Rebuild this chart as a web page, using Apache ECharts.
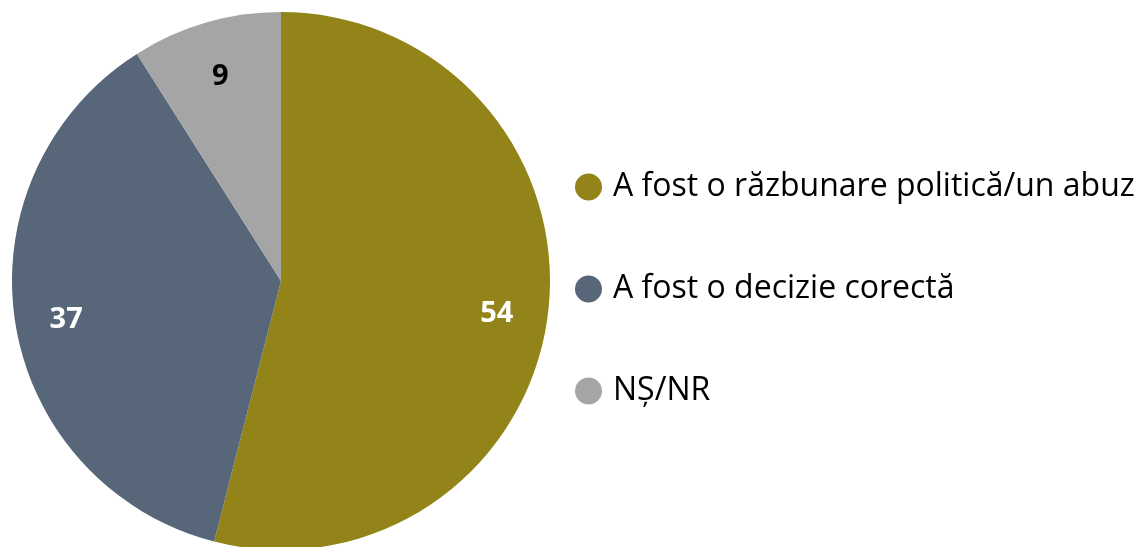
<!DOCTYPE html>
<html>
<head>
	<meta charset="UTF-8">
	<script src="https://cdn.jsdelivr.net/npm/echarts@6/dist/echarts.min.js"></script>
	<title></title>
	<style>body{margin:0;background:#fff;}</style>
</head>
<body>
	<div id="main" style="height:547px;width:1147px;"></div>
	<script type="text/javascript">
        var categories = ['A fost o răzbunare politică/un abuz', 'A fost o decizie corectă', 'NȘ/NR'];
        var values = [54, 37, 9];
        var colors = ['#938419', '#576779', '#a5a5a5'];
        var labelColors = ['#ffffff', '#ffffff', '#000000'];

        var myChart = echarts.init(document.getElementById('main'));
        var pieData = [];
        var labelData = [];
        for (var i = 0; i < categories.length; i++) {
            pieData.push({ name: categories[i], value: values[i], itemStyle: { color: colors[i] } });
            labelData.push({ name: categories[i], value: values[i], label: { color: labelColors[i] } });
        }
        var option = {
            animation: false,
            legend: {
                orient: 'vertical',
                left: 570,
                top: 166,
                icon: 'circle',
                itemWidth: 27,
                itemHeight: 27,
                itemGap: 70,
                data: categories,
                textStyle: { fontFamily: 'Open Sans', fontSize: 32, color: '#000', padding: [0, 0, 0, 6] }
            },
            series: [
                {
                    type: 'pie',
                    center: [281, 281],
                    radius: 269,
                    startAngle: 90,
                    label: { show: false },
                    labelLine: { show: false },
                    silent: true,
                    data: pieData
                },
                { // label ring
                    type: 'pie',
                    center: [281, 286],
                    radius: [160, 269],
                    startAngle: 90,
                    itemStyle: { color: 'transparent' },
                    label: {
                        show: true,
                        position: 'inside',
                        formatter: '{c}',
                        fontFamily: 'Open Sans',
                        fontWeight: 'bold',
                        fontSize: 29
                    },
                    labelLine: { show: false },
                    silent: true,
                    data: labelData
                }
            ]
        };
        myChart.setOption(option);
	</script>
</body>
</html>
